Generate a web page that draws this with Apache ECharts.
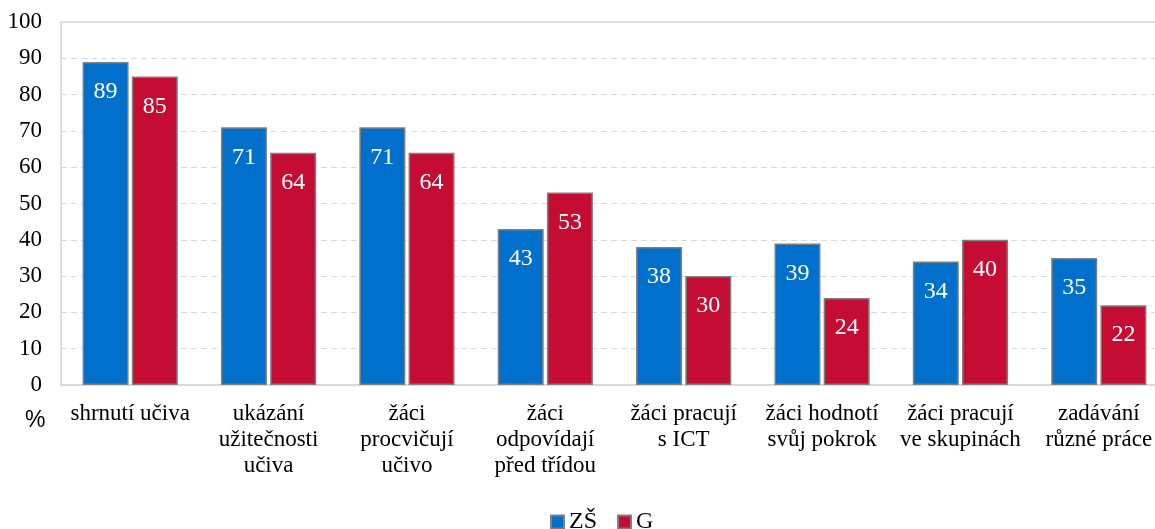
<!DOCTYPE html>
<html>
<head>
<meta charset="utf-8">
<script src="https://cdn.jsdelivr.net/npm/echarts@6/dist/echarts.min.js"></script>
<style>
  html, body { margin: 0; padding: 0; background: #fff; }
  #main { width: 1155px; height: 529px; }
</style>
</head>
<body>
<div id="main"></div>
<script>
const categories = [
    'shrnutí učiva',
    'ukázání\nužitečnosti\nučiva',
    'žáci\nprocvičují\nučivo',
    'žáci\nodpovídají\npřed třídou',
    'žáci pracují\ns ICT',
    'žáci hodnotí\nsvůj pokrok',
    'žáci pracují\nve skupinách',
    'zadávání\nrůzné práce'
]
const zsValues = [89, 71, 71, 43, 38, 39, 34, 35]
const gValues = [85, 64, 64, 53, 30, 24, 40, 22]
const yTicks = [0, 10, 20, 30, 40, 50, 60, 70, 80, 90, 100]

const serif = '"Liberation Serif", "Times New Roman", serif'

const myChart = echarts.init(document.getElementById('main'))

const barLabel = {
    show: true,
    position: 'insideTop',
    distance: 18,
    color: '#ffffff',
    fontFamily: serif,
    fontSize: 24
}

// plot area runs past the right edge of the picture, as in the original crop
myChart.setOption({
    animation: false,
    grid: {
        left: 61,
        width: 1107,
        top: 22,
        bottom: 144,
        outerBoundsMode: 'none',
        containLabel: false,
        show: true,
        borderColor: '#d9d9d9',
        borderWidth: 1.5
    },
    legend: {
        top: 505,
        left: 545,
        itemWidth: 13,
        itemHeight: 13,
        itemGap: 20,
        icon: 'rect',
        textStyle: {
            fontFamily: serif,
            fontSize: 24,
            color: '#000'
        },
        data: ['ZŠ', 'G']
    },
    graphic: [{
        type: 'text',
        left: 25,
        top: 409,
        style: {
            text: '%',
            font: '23px "Liberation Sans", Arial, sans-serif',
            fill: '#000'
        }
    }],
    xAxis: {
        type: 'category',
        data: categories,
        axisLine: { lineStyle: { color: '#d9d9d9', width: 2 } },
        axisTick: { show: false },
        axisLabel: {
            fontFamily: serif,
            fontSize: 23,
            color: '#000',
            lineHeight: 26,
            margin: 16,
            interval: 0
        }
    },
    yAxis: {
        type: 'value',
        min: yTicks[0],
        max: yTicks[yTicks.length - 1],
        interval: 10,
        axisLine: { show: true, lineStyle: { color: '#d9d9d9' } },
        axisTick: { show: false },
        axisLabel: {
            fontFamily: serif,
            fontSize: 23,
            color: '#000',
            margin: 19
        },
        splitLine: {
            lineStyle: { color: '#d9d9d9', type: [6, 4] }
        }
    },
    series: [
        {
            name: 'ZŠ',
            type: 'bar',
            data: zsValues,
            barWidth: 46,
            barGap: '7%',
            itemStyle: { color: '#0070cc', borderColor: '#7f7f7f', borderWidth: 1.5 },
            label: barLabel
        },
        {
            name: 'G',
            type: 'bar',
            data: gValues,
            barWidth: 46,
            itemStyle: { color: '#c50c32', borderColor: '#7f7f7f', borderWidth: 1.5 },
            label: barLabel
        }
    ]
})
</script>
</body>
</html>
